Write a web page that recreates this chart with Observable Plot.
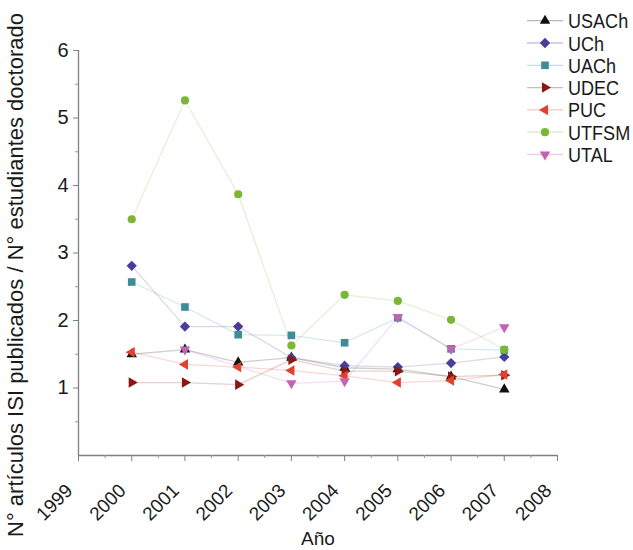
<!DOCTYPE html>
<html>
<head>
<meta charset="utf-8">
<script src="https://cdn.jsdelivr.net/npm/d3@7"></script>
<script src="https://cdn.jsdelivr.net/npm/@observablehq/plot@0.6"></script>
<style>
  html, body { margin: 0; padding: 0; background: #fff; }
  #wrap { position: relative; width: 633px; height: 550px; font-family: "Liberation Sans", Arial, sans-serif; }
  #legend { position: absolute; left: 0; top: 0; pointer-events: none; }
</style>
</head>
<body>
<div id="wrap"></div>
<script>
// Ratio of ISI articles published per doctoral student, by university and year
const years = [2000, 2001, 2002, 2003, 2004, 2005, 2006, 2007];
const usach = [1.50, 1.57, 1.38, 1.45, 1.30, 1.28, 1.17, 0.98];
const uch   = [2.81, 1.91, 1.91, 1.45, 1.33, 1.31, 1.37, 1.46];
const uach  = [2.57, 2.20, 1.79, 1.78, 1.67, 2.04, 1.58, 1.56];
const udec  = [1.08, 1.08, 1.05, 1.42, 1.25, 1.25, 1.17, 1.19];
const puc   = [1.53, 1.35, 1.31, 1.26, 1.18, 1.08, 1.11, 1.20];
const utfsm = [3.50, 5.26, 3.87, 1.63, 2.38, 2.29, 2.01, 1.57];
const utal  = [null, 1.57, null, 1.07, 1.10, 2.05, 1.58, 1.90];

const universities = ["USACh", "UCh", "UACh", "UDEC", "PUC", "UTFSM", "UTAL"];
const seriesValues = [usach, uch, uach, udec, puc, utfsm, utal];
const colors = ["#111111", "#4a3c9c", "#3d8c98", "#8a1616", "#e2412e", "#7cb634", "#c463b4"];

const yTicks = [1, 2, 3, 4, 5, 6];
const xTicks = [1999, 2000, 2001, 2002, 2003, 2004, 2005, 2006, 2007, 2008];

// Equilateral triangle symbol pointing in a given direction (radians)
function triangle(angle) {
  return {
    draw(context, size) {
      const r = Math.sqrt(size / (3 * Math.sqrt(3) / 4));
      for (let k = 0; k < 3; k++) {
        const a = angle + k * 2 * Math.PI / 3;
        const px = r * Math.cos(a), py = r * Math.sin(a);
        if (k === 0) context.moveTo(px, py); else context.lineTo(px, py);
      }
      context.closePath();
    }
  };
}
// Square rotated by 45°
const diamond = {
  draw(context, size) {
    const h = Math.sqrt(size / 2);
    context.moveTo(0, -h);
    context.lineTo(h, 0);
    context.lineTo(0, h);
    context.lineTo(-h, 0);
    context.closePath();
  }
};
const symbols = [
  triangle(-Math.PI / 2), // up
  diamond,
  d3.symbolSquare,
  triangle(0),            // right
  triangle(Math.PI),      // left
  d3.symbolCircle,
  triangle(Math.PI / 2)   // down
];
const radii = [3.9, 4.1, 4.3, 3.9, 3.9, 4.1, 3.9];

const series = universities.map((name, i) => ({
  name,
  color: colors[i],
  symbol: symbols[i],
  r: radii[i],
  rows: years.map((year, j) => ({year, value: seriesValues[i][j], name}))
             .filter(d => d.value != null)
}));

const font = "Liberation Sans, Arial, sans-serif";

const chart = Plot.plot({
  width: 633,
  height: 550,
  marginLeft: 78,
  marginRight: 76,
  marginTop: 50,
  marginBottom: 95,
  style: {fontFamily: font, color: "#1a1a1a", background: "#fff"},
  x: {domain: [1999, 2008]},
  y: {domain: [0, 6]},
  marks: [
    // axis lines
    Plot.ruleX([1999], {stroke: "#808080", strokeWidth: 1.3}),
    Plot.ruleY([0], {stroke: "#808080", strokeWidth: 1.3}),
    // minor ticks
    Plot.axisY(d3.range(0.5, 6, 1), {tickSize: 3, tickFormat: () => "", stroke: "#999", label: null}),
    Plot.axisX(d3.range(1999.5, 2008, 1), {tickSize: 3, tickFormat: () => "", stroke: "#999", label: null}),
    // major ticks and labels
    Plot.axisY(yTicks, {tickSize: 5, tickPadding: 5, fontSize: 20, stroke: "#808080", label: null, tickFormat: d => String(d)}),
    Plot.axisX(xTicks, {tickSize: 6, stroke: "#808080", label: null, tickFormat: () => ""}),
    Plot.axisX(xTicks, {tickSize: 0, tickPadding: 32, dx: -9, tickRotate: -45, fontSize: 19, label: null, tickFormat: d => String(d)}),
    // axis titles
    Plot.text(["N° artículos ISI publicados / N° estudiantes doctorado"], {
      frameAnchor: "left", textAnchor: "middle", rotate: -90, dx: -63, dy: 22,
      fontSize: 22, fill: "#1a1a1a"
    }),
    Plot.text(["Año"], {frameAnchor: "bottom", dy: 89, fontSize: 19, fill: "#1a1a1a"}),
    // faint connecting lines
    ...series.map(s => Plot.line(s.rows, {x: "year", y: "value", stroke: s.color, strokeOpacity: 0.2, strokeWidth: 1.3})),
    // markers
    ...series.map(s => Plot.dot(s.rows, {x: "year", y: "value", symbol: s.symbol, r: s.r, fill: s.color, stroke: "none"}))
  ]
});

const wrap = document.getElementById("wrap");
wrap.appendChild(chart);

// Legend drawn with the same symbols, top right
const legend = d3.select(wrap).append("svg")
  .attr("id", "legend")
  .attr("width", 633).attr("height", 180);
const item = legend.selectAll("g").data(series).join("g")
  .attr("transform", (d, i) => `translate(0, ${20.7 + i * 22.3})`);
item.append("line")
  .attr("x1", 527).attr("x2", 563)
  .attr("stroke", d => d.color).attr("stroke-opacity", 0.3).attr("stroke-width", 1.3);
item.append("path")
  .attr("transform", "translate(545, 0)")
  .attr("d", d => d3.symbol(d.symbol, Math.PI * d.r * d.r)())
  .attr("fill", d => d.color);
item.append("text")
  .attr("transform", "translate(568, 0) scale(0.86, 1)")
  .attr("dy", "0.36em")
  .attr("font-family", font).attr("font-size", 21)
  .attr("fill", "#1a1a1a")
  .text(d => d.name);
</script>
</body>
</html>
